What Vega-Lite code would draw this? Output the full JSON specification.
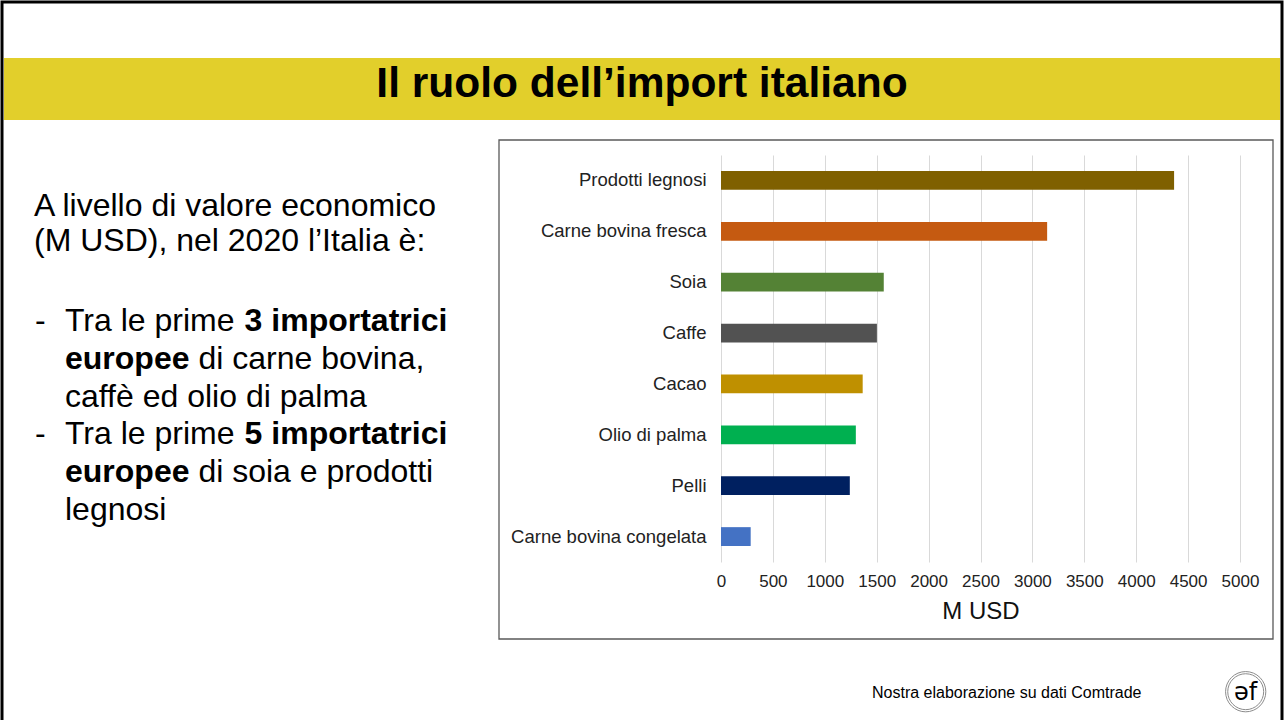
{
  "$schema": "https://vega.github.io/schema/vega-lite/v6.json",
  "width": 519,
  "height": 407,
  "autosize": {"type": "none"},
  "padding": {"left": 721, "top": 155, "right": 45, "bottom": 158},
  "background": "white",
  "config": {"view": {"stroke": null}, "font": "Liberation Sans", "text": {"font": "Liberation Sans", "color": "#000000"}},
  "layer": [
    {
      "data": {"values": [{}]},
      "mark": {"type": "rect", "x": -719, "x2": 561, "y": -153, "y2": 570, "fill": null, "stroke": "#000000", "strokeWidth": 3},
      "encoding": {}
    },
    {
      "data": {"values": [{}]},
      "mark": {"type": "rect", "x": -717, "x2": 559, "y": -97, "y2": -35, "fill": "#E2CF2B", "stroke": null},
      "encoding": {}
    },
    {
      "data": {"values": [{}]},
      "mark": {"type": "rect", "x": -222, "x2": 552, "y": -15, "y2": 484, "fill": null, "stroke": "#595959", "strokeWidth": 1.3},
      "encoding": {}
    },
    {
      "data": {"values": [
        {"Prodotto": "Prodotti legnosi", "Valore": 4365},
        {"Prodotto": "Carne bovina fresca", "Valore": 3142},
        {"Prodotto": "Soia", "Valore": 1568},
        {"Prodotto": "Caffe", "Valore": 1502},
        {"Prodotto": "Cacao", "Valore": 1365},
        {"Prodotto": "Olio di palma", "Valore": 1299},
        {"Prodotto": "Pelli", "Valore": 1241},
        {"Prodotto": "Carne bovina congelata", "Valore": 286}
      ]},
      "mark": {"type": "bar"},
      "encoding": {
        "y": {
          "field": "Prodotto", "type": "nominal", "sort": null,
          "scale": {"paddingInner": 0.63, "paddingOuter": 0.315},
          "axis": {"title": null, "ticks": false, "tickSize": 0, "domain": false, "grid": false, "labelFontSize": 18.5, "labelColor": "#222222", "labelPadding": 15, "labelLimit": 0, "labelFont": "Liberation Sans"}
        },
        "x": {
          "field": "Valore", "type": "quantitative",
          "scale": {"domain": [0, 5000], "nice": false},
          "axis": {"values": [0, 500, 1000, 1500, 2000, 2500, 3000, 3500, 4000, 4500, 5000], "format": "d", "title": "M USD", "titleFont": "Liberation Sans", "titleFontSize": 24, "titleFontWeight": "normal", "titleColor": "#111111", "titlePadding": 10, "labelFont": "Liberation Sans", "labelFontSize": 17, "labelColor": "#222222", "labelPadding": 11, "ticks": false, "tickSize": 0, "domain": false, "gridColor": "#d9d9d9", "gridWidth": 1, "labelFlush": false, "labelOverlap": false}
        },
        "color": {
          "field": "Prodotto", "type": "nominal",
          "scale": {
            "domain": ["Prodotti legnosi", "Carne bovina fresca", "Soia", "Caffe", "Cacao", "Olio di palma", "Pelli", "Carne bovina congelata"],
            "range": ["#7F6000", "#C55A11", "#548235", "#525252", "#BF9000", "#00B050", "#002060", "#4472C4"]
          },
          "legend": null
        }
      }
    },
    {"data": {"values": [{}]}, "mark": {"type": "text", "text": "Il ruolo dell’import italiano", "x": -79, "y": -58, "align": "center", "baseline": "alphabetic", "fontSize": 42.5, "fontWeight": "bold"}, "encoding": {}},
    {"data": {"values": [{}]}, "mark": {"type": "text", "text": "A livello di valore economico", "x": -687, "y": 60.5, "align": "left", "baseline": "alphabetic", "fontSize": 32}, "encoding": {}},
    {"data": {"values": [{}]}, "mark": {"type": "text", "text": "(M USD), nel 2020 l’Italia è:", "x": -687, "y": 96, "align": "left", "baseline": "alphabetic", "fontSize": 32}, "encoding": {}},
    {"data": {"values": [{}]}, "mark": {"type": "text", "text": "-", "x": -686, "y": 176, "align": "left", "baseline": "alphabetic", "fontSize": 32}, "encoding": {}},
    {"data": {"values": [{}]}, "mark": {"type": "text", "text": "Tra le prime", "x": -656, "y": 176, "align": "left", "baseline": "alphabetic", "fontSize": 32}, "encoding": {}},
    {"data": {"values": [{}]}, "mark": {"type": "text", "text": "3 importatrici", "x": -476.4, "y": 176, "align": "left", "baseline": "alphabetic", "fontSize": 32, "fontWeight": "bold"}, "encoding": {}},
    {"data": {"values": [{}]}, "mark": {"type": "text", "text": "europee", "x": -656, "y": 213.8, "align": "left", "baseline": "alphabetic", "fontSize": 32, "fontWeight": "bold"}, "encoding": {}},
    {"data": {"values": [{}]}, "mark": {"type": "text", "text": "di carne bovina,", "x": -522.6, "y": 213.8, "align": "left", "baseline": "alphabetic", "fontSize": 32}, "encoding": {}},
    {"data": {"values": [{}]}, "mark": {"type": "text", "text": "caffè ed olio di palma", "x": -656, "y": 251.6, "align": "left", "baseline": "alphabetic", "fontSize": 32}, "encoding": {}},
    {"data": {"values": [{}]}, "mark": {"type": "text", "text": "-", "x": -686, "y": 289.4, "align": "left", "baseline": "alphabetic", "fontSize": 32}, "encoding": {}},
    {"data": {"values": [{}]}, "mark": {"type": "text", "text": "Tra le prime", "x": -656, "y": 289.4, "align": "left", "baseline": "alphabetic", "fontSize": 32}, "encoding": {}},
    {"data": {"values": [{}]}, "mark": {"type": "text", "text": "5 importatrici", "x": -476.4, "y": 289.4, "align": "left", "baseline": "alphabetic", "fontSize": 32, "fontWeight": "bold"}, "encoding": {}},
    {"data": {"values": [{}]}, "mark": {"type": "text", "text": "europee", "x": -656, "y": 327.2, "align": "left", "baseline": "alphabetic", "fontSize": 32, "fontWeight": "bold"}, "encoding": {}},
    {"data": {"values": [{}]}, "mark": {"type": "text", "text": "di soia e prodotti", "x": -522.6, "y": 327.2, "align": "left", "baseline": "alphabetic", "fontSize": 32}, "encoding": {}},
    {"data": {"values": [{}]}, "mark": {"type": "text", "text": "legnosi", "x": -656, "y": 365, "align": "left", "baseline": "alphabetic", "fontSize": 32}, "encoding": {}},
    {"data": {"values": [{}]}, "mark": {"type": "text", "text": "Nostra elaborazione su dati Comtrade", "x": 151, "y": 543, "align": "left", "baseline": "alphabetic", "fontSize": 16}, "encoding": {}},
    {"data": {"values": [{}]}, "mark": {"type": "point", "shape": "circle", "x": 524.7, "y": 536.7, "size": 1620, "filled": false, "stroke": "#8c8c8c", "strokeWidth": 1, "opacity": 1}, "encoding": {}},
    {"data": {"values": [{}]}, "mark": {"type": "point", "shape": "circle", "x": 524.7, "y": 536.7, "size": 1290, "filled": false, "stroke": "#8c8c8c", "strokeWidth": 1, "opacity": 1}, "encoding": {}},
    {"data": {"values": [{}]}, "mark": {"type": "text", "text": "əf", "x": 524.7, "y": 537.5, "align": "center", "baseline": "middle", "fontSize": 24, "font": "DejaVu Sans"}, "encoding": {}}
  ]
}
